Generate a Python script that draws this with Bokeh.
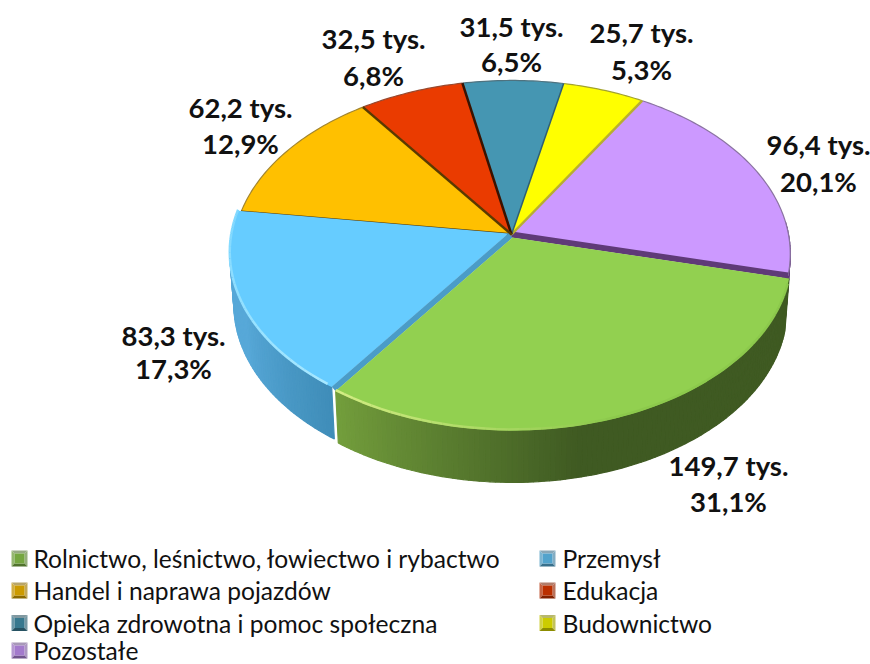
from math import cos, sin, pi, radians
from bokeh.plotting import figure
from bokeh.models import Range1d
from bokeh.core.properties import value
from bokeh.embed import file_html
from bokeh.resources import INLINE

# ---- data ----
categories = ["Rolnictwo, leśnictwo, łowiectwo i rybactwo", "Przemysł", "Handel i naprawa pojazdów",
              "Edukacja", "Opieka zdrowotna i pomoc społeczna", "Budownictwo", "Pozostałe"]
percent = [31.1, 17.3, 12.9, 6.8, 6.5, 5.3, 20.1]
amount_labels = ["149,7 tys.", "83,3 tys.", "62,2 tys.", "32,5 tys.", "31,5 tys.", "25,7 tys.", "96,4 tys."]
percent_labels = ["31,1%", "17,3%", "12,9%", "6,8%", "6,5%", "5,3%", "20,1%"]
colors = ["#92D050", "#66CCFF", "#FFC000", "#EA3B00", "#4596B2", "#FFFF00", "#CC99FF"]
edge_colors = ["#92D050", "#4A9CC8", "#5A3A00", "#3A1200", "#2F5F72", "#B8AE30", "#5F3A78"]
label_pos = [(728, 465, 501), (173, 335, 368), (240, 107, 143), (373, 38, 75),
             (511, 26, 61), (641, 32, 69), (818, 144, 181)]
legend_rows = [558, 558, 590, 590, 622.5, 622.5, 650]
legend_cols = [0, 1, 0, 1, 0, 1, 0]

# ---- projection of the pie disc ----
CX, CY, A, B, K = 511, 234, 277, 171.3, 0.112
DEPTH, SHRINK = 52, 0.985
START = 13.5
offsets = [(1, 3), (-3, -1), (0, 0), (0, 0), (0, 0), (0, 0), (0, 0)]


def top(tdeg, off=(0, 0)):
    t = radians(tdeg)
    w = 1 - K * sin(t)
    return CX + off[0] + A * cos(t) / w, CY + off[1] + B * sin(t) / w


def bottom(tdeg, off=(0, 0)):
    x, y = top(tdeg, off)
    return CX + off[0] + (x - CX - off[0]) * SHRINK, y + DEPTH


def frange(a, b, step=1.0):
    n = max(2, int(abs(b - a) / step) + 1)
    return [a + (b - a) * i / (n - 1) for i in range(n)]


def hexmix(c1, c2, f):
    f = max(0.0, min(1.0, f))
    a = [int(c1[i:i + 2], 16) for i in (1, 3, 5)]
    b = [int(c2[i:i + 2], 16) for i in (1, 3, 5)]
    return "#%02x%02x%02x" % tuple(round(a[i] + (b[i] - a[i]) * f) for i in range(3))


p = figure(width=870, height=664, output_backend="svg", toolbar_location=None,
           x_range=Range1d(0, 870), y_range=Range1d(664, 0), min_border=0,
           outline_line_color=None, background_fill_color="white", border_fill_color="white")
p.axis.visible = False
p.grid.visible = False

# slice angle spans
spans = []
a0 = START
for v in percent:
    a1 = a0 + v * 3.6
    spans.append((a0, a1))
    a0 = a1


def draw_wall(i, t0, t1, colfun):
    xs, ys, cs = [], [], []
    ts = frange(t0, t1, 1.0)
    for u, v in zip(ts[:-1], ts[1:]):
        a, b = top(u, offsets[i]), top(v, offsets[i])
        c, d = bottom(v, offsets[i]), bottom(u, offsets[i])
        xs.append([a[0], b[0], c[0], d[0]])
        ys.append([a[1], b[1], c[1], d[1]])
        cs.append(colfun((u + v) / 2))
    p.patches(xs, ys, fill_color=cs, line_color=cs, line_width=1.2)


def draw_top(i):
    t0, t1 = spans[i]
    off = offsets[i]
    pts = [top(t, off) for t in frange(t0, t1)]
    xs = [CX + off[0]] + [q[0] for q in pts]
    ys = [CY + off[1]] + [q[1] for q in pts]
    p.patch(xs, ys, fill_color=colors[i], line_color=None)
    return pts, off


# far wall sliver of the last slice, seen at the right
draw_wall(6, spans[6][1] - 18, spans[6][1], lambda t: "#5F3A78")

# back slices (Pozostałe ... Handel)
for i in (6, 5, 4, 3, 2):
    pts, off = draw_top(i)
    p.line([q[0] for q in pts], [q[1] for q in pts], line_color=hexmix(colors[i], "#555555", 0.55),
           line_width=1.2)
# cut edges between the back slices
for ang, col, w in ((spans[6][1], edge_colors[6], 6), (spans[5][1], edge_colors[5], 2.5),
                    (spans[4][1], edge_colors[4], 1.5), (spans[3][1], edge_colors[3], 2.5),
                    (spans[2][1], edge_colors[2], 2.5), (spans[2][0], edge_colors[2], 2.5)):
    end = top(ang)
    p.line([CX, end[0]], [CY, end[1]], line_color=col, line_width=w)

# blue wall, top, cut strip
draw_wall(1, spans[1][0], spans[1][1],
          lambda t: hexmix("#3F8DB8", "#57A8D8", (t - spans[1][0]) / 30))
pts, off = draw_top(1)
corner = top(spans[1][0], off)
p.line([CX + off[0] + 2, corner[0] + 2], [CY + off[1] + 2, corner[1] + 2], line_color=edge_colors[1], line_width=6)
ts = frange(spans[1][0] + 1, spans[1][1], 2)
rim = [[top(u, off)[0], top(v, off)[0]] for u, v in zip(ts[:-1], ts[1:])]
rimy = [[top(u, off)[1] - 1, top(v, off)[1] - 1] for u, v in zip(ts[:-1], ts[1:])]
rimc = [hexmix("#A8E8FF", "#7FD8FF", (u - spans[1][0]) / 60) for u in ts[:-1]]
p.multi_line(rim, rimy, line_color=rimc, line_width=2.5)

# green wall and top
draw_wall(0, spans[0][0], spans[0][1],
          lambda t: hexmix("#3F5A22", "#739E3C", (t - 78) / (spans[0][1] - 78)))
pts, off = draw_top(0)
ts = frange(spans[0][0] + 2, spans[0][1], 2)
rim = [[top(u, off)[0], top(v, off)[0]] for u, v in zip(ts[:-1], ts[1:])]
rimy = [[top(u, off)[1] - 1, top(v, off)[1] - 1] for u, v in zip(ts[:-1], ts[1:])]
rimc = [hexmix("#8CC94C", "#D6EE86", (u - 70) / (spans[0][1] - 70)) for u in ts[:-1]]
p.multi_line(rim, rimy, line_color=rimc, line_width=2.5)

# data labels
lab_font = value("Lato")
for (x, y1, y2), s1, s2 in zip(label_pos, amount_labels, percent_labels):
    p.text([x], [y1], text=[s1], text_font=lab_font, text_font_size="27.5px", text_font_style="bold",
           text_align="center", text_baseline="middle", text_color="#111111")
    p.text([x], [y2], text=[s2], text_font=lab_font, text_font_size="27.5px", text_font_style="bold",
           text_align="center", text_baseline="middle", text_color="#111111")

# legend with bevelled keys
KEY_X = [11, 539]
TEXT_X = [33, 562]
KEY = 16
for name, col, base, yc in zip(categories, legend_cols, colors, legend_rows):
    x0, y0 = KEY_X[col], yc - KEY / 2
    x1, y1 = x0 + KEY, y0 + KEY
    ix0, iy0, ix1, iy1 = x0 + 3, y0 + 3, x1 - 3, y1 - 3
    dark = hexmix(base, "#000000", 0.45)
    p.patches([[x0, x1, ix1, ix0], [x0, ix0, ix0, x0], [x1, x1, ix1, ix1], [x0, ix0, ix1, x1]],
              [[y0, y0, iy0, iy0], [y0, iy0, iy1, y1], [y0, y1, iy1, iy0], [y1, iy1, iy1, y1]],
              fill_color=[hexmix(base, "#999999", 0.7), hexmix(base, "#999999", 0.45),
                          hexmix(base, "#999999", 0.6), dark],
              line_color=None)
    p.patch([ix0, ix1, ix1, ix0], [iy0, iy0, iy1, iy1], fill_color=hexmix(base, "#000000", 0.2), line_color=None)
    p.text([TEXT_X[col]], [yc], text=[name], text_font=value("Lato"), text_font_size="24.6px",
           text_align="left", text_baseline="middle", text_color="#111111")

open("out.html", "w").write(file_html(p, INLINE))
